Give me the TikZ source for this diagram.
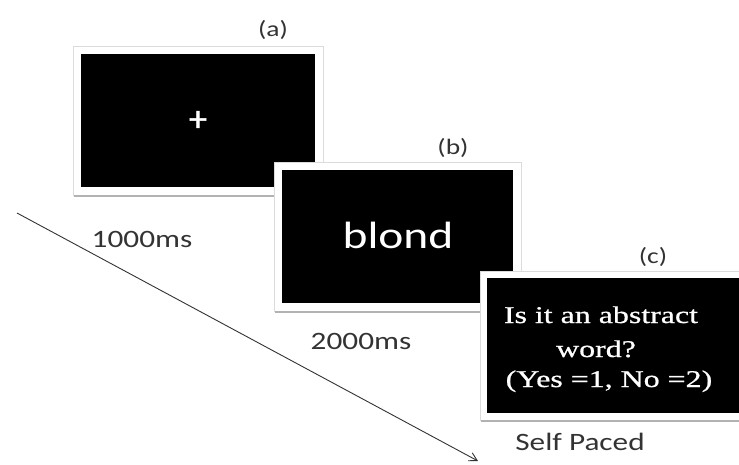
\documentclass[tikz,border=0pt]{standalone}
\usepackage{fontspec}
\newfontfamily\labfont[FakeStretch=1.25]{Carlito}
\newfontfamily\plusfont[FakeBold=1.5]{Carlito}
\newfontfamily\serfont[FakeStretch=1.33,FakeBold=0.8]{Liberation Serif}
\usetikzlibrary{arrows.meta}
\definecolor{labgray}{HTML}{333333}
\tikzset{
  frame/.style={fill=white, draw=black!14, line width=1pt},
  shade line/.style={draw=black!30, line width=2pt},
  screen/.style={fill=black, draw=none},
  lab/.style={text=labgray, font=\labfont\fontsize{25}{30}\selectfont, inner sep=0pt},
  tag/.style={text=labgray, font=\labfont\fontsize{22}{26}\selectfont, inner sep=0pt},
  qtext/.style={text=white, font=\serfont\fontsize{24}{28}\selectfont, inner sep=0pt, anchor=base},
}
\begin{document}
\begin{tikzpicture}[x=1pt,y=-1pt]
\useasboundingbox (0,0) rectangle (739,464);
% panel a
\draw[frame] (73,46) rectangle (323,195);
\draw[shade line] (74,196) -- (322,196);
\fill[screen] (81,54) rectangle (315,187);
\node[text=white, font=\plusfont\fontsize{36}{40}\selectfont, inner sep=0pt] (plus) at (198,121) {+};
% panel b
\draw[frame] (274,162) rectangle (521,311);
\draw[shade line] (275,312) -- (520,312);
\fill[screen] (282,170) rectangle (513,303);
\node[text=white, font=\labfont\fontsize{38}{44}\selectfont, inner sep=0pt, anchor=base] (word) at (398,248) {blond};
% panel c
\draw[frame] (480,271) rectangle (745,420);
\draw[shade line] (481,421) -- (739,421);
\fill[screen] (487,278) rectangle (739,413);
\node[qtext] (q1) at (601,323) {Is it an abstract};
\node[qtext] (q2) at (596,357) {word?};
\node[qtext] (q3) at (609,387) {(Yes =1, No =2)};
% tags
\node[tag] (ta) at (273,30) {(a)};
\node[tag] (tb) at (453,148) {(b)};
\node[tag] (tc) at (653,257) {(c)};
% durations
\node[lab, anchor=base] (d1) at (142,247) {1000ms};
\node[lab, anchor=base] (d2) at (361,349) {2000ms};
\node[lab, anchor=base] (d3) at (580,450) {Self Paced};
% time arrow
\coordinate (tstart) at (17,213);
\coordinate (tend) at (478,461);
\draw[labgray, line width=0.9pt, -{Straight Barb[length=8pt,width=9pt]}] (tstart) -- (tend);
\end{tikzpicture}
\end{document}
